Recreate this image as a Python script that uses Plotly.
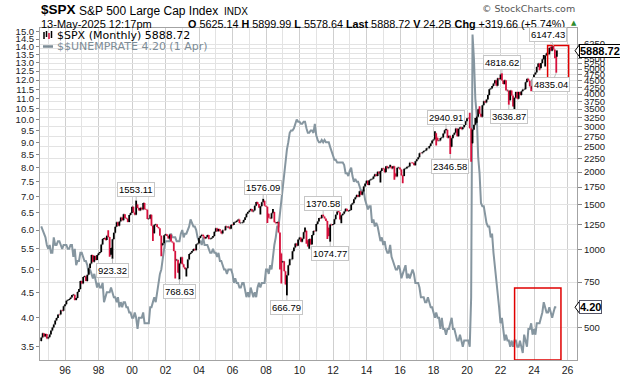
import plotly.graph_objects as go
import pandas as pd
import math

# ---------------- DATA ----------------
# S&P 500 monthly closes, Jul 1994 .. May 2025 (last = 13-May-2025 intramonth)
spx_close = [
    458.26, 475.49, 462.69, 472.35, 453.69, 459.27,
    470.42, 487.39, 500.71, 514.71, 533.40, 544.75, 562.06, 561.88, 584.41, 581.50, 605.37, 615.93,
    636.02, 640.43, 645.50, 654.17, 669.12, 670.63, 639.95, 651.99, 687.33, 705.27, 757.02, 740.74,
    786.16, 790.82, 757.12, 801.34, 848.28, 885.14, 954.29, 899.47, 947.28, 914.62, 955.40, 970.43,
    980.28, 1049.34, 1101.75, 1111.75, 1090.82, 1133.84, 1120.67, 957.28, 1017.01, 1098.67, 1163.63, 1229.23,
    1279.64, 1238.33, 1286.37, 1335.18, 1301.84, 1372.71, 1328.72, 1320.41, 1282.71, 1362.93, 1388.91, 1469.25,
    1394.46, 1366.42, 1498.58, 1452.43, 1420.60, 1454.60, 1430.83, 1517.68, 1436.51, 1429.40, 1314.95, 1320.28,
    1366.01, 1239.94, 1160.33, 1249.46, 1255.82, 1224.38, 1211.23, 1133.58, 1040.94, 1059.78, 1139.45, 1148.08,
    1130.20, 1106.73, 1147.39, 1076.92, 1067.14, 989.82, 911.62, 916.07, 815.28, 885.76, 936.31, 879.82,
    855.70, 841.15, 848.18, 916.92, 963.59, 974.50, 990.31, 1008.01, 995.97, 1050.71, 1058.20, 1111.92,
    1131.13, 1144.94, 1126.21, 1107.30, 1120.68, 1140.84, 1101.72, 1104.24, 1114.58, 1130.20, 1173.82, 1211.92,
    1181.27, 1203.60, 1180.59, 1156.85, 1191.50, 1191.33, 1234.18, 1220.33, 1228.81, 1207.01, 1249.48, 1248.29,
    1280.08, 1280.66, 1294.83, 1310.61, 1270.09, 1270.20, 1276.66, 1303.82, 1335.85, 1377.94, 1400.63, 1418.30,
    1438.24, 1406.82, 1420.86, 1482.37, 1530.62, 1503.35, 1455.27, 1473.99, 1526.75, 1549.38, 1481.14, 1468.36,
    1378.55, 1330.63, 1322.70, 1385.59, 1400.38, 1280.00, 1267.38, 1282.83, 1166.36, 968.75, 896.24, 903.25,
    825.88, 735.09, 797.87, 872.81, 919.14, 919.32, 987.48, 1020.62, 1057.08, 1036.19, 1095.63, 1115.10,
    1073.87, 1104.49, 1169.43, 1186.69, 1089.41, 1030.71, 1101.60, 1049.33, 1141.20, 1183.26, 1180.55, 1257.64,
    1286.12, 1327.22, 1325.83, 1363.61, 1345.20, 1320.64, 1292.28, 1218.89, 1131.42, 1253.30, 1246.96, 1257.60,
    1312.41, 1365.68, 1408.47, 1397.91, 1310.33, 1362.16, 1379.32, 1406.58, 1440.67, 1412.16, 1416.18, 1426.19,
    1498.11, 1514.68, 1569.19, 1597.57, 1630.74, 1606.28, 1685.73, 1632.97, 1681.55, 1756.54, 1805.81, 1848.36,
    1782.59, 1859.45, 1872.34, 1883.95, 1923.57, 1960.23, 1930.67, 2003.37, 1972.29, 2018.05, 2067.56, 2058.90,
    1994.99, 2104.50, 2067.89, 2085.51, 2107.39, 2063.11, 2103.84, 1972.18, 1920.03, 2079.36, 2080.41, 2043.94,
    1940.24, 1932.23, 2059.74, 2065.30, 2096.95, 2098.86, 2173.60, 2170.95, 2168.27, 2126.15, 2198.81, 2238.83,
    2278.87, 2363.64, 2362.72, 2384.20, 2411.80, 2423.41, 2470.30, 2471.65, 2519.36, 2575.26, 2647.58, 2673.61,
    2823.81, 2713.83, 2640.87, 2648.05, 2705.27, 2718.37, 2816.29, 2901.52, 2913.98, 2711.74, 2760.17, 2506.85,
    2704.10, 2784.49, 2834.40, 2945.83, 2752.06, 2941.76, 2980.38, 2926.46, 2976.74, 3037.56, 3140.98, 3230.78,
    3225.52, 2954.22, 2584.59, 2912.43, 3044.31, 3100.29, 3271.12, 3500.31, 3363.00, 3269.96, 3621.63, 3756.07,
    3714.24, 3811.15, 3972.89, 4181.17, 4204.11, 4297.50, 4395.26, 4522.68, 4307.54, 4605.38, 4567.00, 4766.18,
    4515.55, 4373.94, 4530.41, 4131.93, 4132.15, 3785.38, 4130.29, 3955.00, 3585.62, 3871.98, 4080.11, 3839.50,
    4076.60, 3970.15, 4109.31, 4169.48, 4179.83, 4450.38, 4588.96, 4507.66, 4288.05, 4193.80, 4567.80, 4769.83,
    4845.65, 5096.27, 5254.35, 5035.69, 5277.51, 5460.48, 5522.30, 5648.40, 5762.48, 5705.45, 6032.38, 5881.63,
    6040.53, 5954.50, 5611.85, 5569.06, 5888.72,
]
spx_first_open = 444.27          # Jun 1994 close = Jul 1994 open
spx_open_marks = {"2025-05": 5625.14}
# known monthly highs / lows (labels on chart + notable extremes)
spx_high_marks = {
    "1998-07": 1190.58, "2000-03": 1553.11, "2007-10": 1576.09, "2008-05": 1440.24,
    "2010-04": 1219.80, "2011-05": 1370.58, "2012-04": 1422.38, "2015-05": 2134.72,
    "2018-01": 2872.87, "2018-09": 2940.91, "2020-02": 3393.52, "2020-06": 3233.13,
    "2020-09": 3588.11, "2022-01": 4818.62, "2024-07": 5669.67, "2024-12": 6099.97,
    "2025-01": 6128.18, "2025-02": 6147.43, "2025-05": 5899.99,
}
spx_low_marks = {
    "1998-08": 939.98, "1998-10": 923.32, "2001-03": 1081.19, "2001-09": 944.75,
    "2002-07": 775.68, "2002-10": 768.63, "2003-03": 788.90, "2007-08": 1370.60,
    "2008-01": 1270.05, "2008-10": 839.80, "2008-11": 741.02, "2009-03": 666.79,
    "2010-05": 1055.90, "2010-07": 1010.91, "2011-08": 1101.54, "2011-10": 1074.77,
    "2012-06": 1266.74, "2014-10": 1820.66, "2015-08": 1867.01, "2016-02": 1810.10,
    "2018-02": 2532.69, "2018-12": 2346.58, "2020-03": 2191.86, "2022-06": 3636.87,
    "2022-10": 3491.58, "2023-10": 4103.78, "2024-04": 4953.56, "2024-08": 5119.26,
    "2025-03": 5504.65, "2025-04": 4835.04, "2025-05": 5578.64,
}
# US unemployment rate (SA), Jul 1994 .. Apr 2025
unemp = [
    6.1, 6.0, 5.9, 5.8, 5.6, 5.5,
    5.6, 5.4, 5.4, 5.8, 5.6, 5.6, 5.7, 5.7, 5.6, 5.5, 5.6, 5.6,
    5.6, 5.5, 5.5, 5.6, 5.6, 5.3, 5.5, 5.1, 5.2, 5.2, 5.4, 5.4,
    5.3, 5.2, 5.2, 5.1, 4.9, 5.0, 4.9, 4.8, 4.9, 4.7, 4.6, 4.7,
    4.6, 4.6, 4.7, 4.3, 4.4, 4.5, 4.5, 4.5, 4.6, 4.5, 4.4, 4.4,
    4.3, 4.4, 4.2, 4.3, 4.2, 4.3, 4.3, 4.2, 4.2, 4.1, 4.1, 4.0,
    4.0, 4.1, 4.0, 3.8, 4.0, 4.0, 4.0, 4.1, 3.9, 3.9, 3.9, 3.9,
    4.2, 4.2, 4.3, 4.4, 4.3, 4.5, 4.6, 4.9, 5.0, 5.3, 5.5, 5.7,
    5.7, 5.7, 5.7, 5.9, 5.8, 5.8, 5.8, 5.7, 5.7, 5.7, 5.9, 6.0,
    5.8, 5.9, 5.9, 6.0, 6.1, 6.3, 6.2, 6.1, 6.1, 6.0, 5.8, 5.7,
    5.7, 5.6, 5.8, 5.6, 5.6, 5.6, 5.5, 5.4, 5.4, 5.5, 5.4, 5.4,
    5.3, 5.4, 5.2, 5.2, 5.1, 5.0, 5.0, 4.9, 5.0, 5.0, 5.0, 4.9,
    4.7, 4.8, 4.7, 4.7, 4.6, 4.6, 4.7, 4.7, 4.5, 4.4, 4.5, 4.4,
    4.6, 4.5, 4.4, 4.5, 4.4, 4.6, 4.7, 4.6, 4.7, 4.7, 4.7, 5.0,
    5.0, 4.9, 5.1, 5.0, 5.4, 5.6, 5.8, 6.1, 6.1, 6.5, 6.8, 7.3,
    7.8, 8.3, 8.7, 9.0, 9.4, 9.5, 9.5, 9.6, 9.8, 10.0, 9.9, 9.9,
    9.8, 9.8, 9.9, 9.9, 9.6, 9.4, 9.4, 9.5, 9.5, 9.4, 9.8, 9.3,
    9.1, 9.0, 9.0, 9.1, 9.0, 9.1, 9.0, 9.0, 9.0, 8.8, 8.6, 8.5,
    8.3, 8.3, 8.2, 8.2, 8.2, 8.2, 8.2, 8.1, 7.8, 7.8, 7.7, 7.9,
    8.0, 7.7, 7.5, 7.6, 7.5, 7.5, 7.3, 7.2, 7.2, 7.2, 6.9, 6.7,
    6.6, 6.7, 6.7, 6.2, 6.3, 6.1, 6.2, 6.1, 5.9, 5.7, 5.8, 5.6,
    5.7, 5.5, 5.4, 5.4, 5.6, 5.3, 5.2, 5.1, 5.0, 5.0, 5.1, 5.0,
    4.8, 4.9, 5.0, 5.1, 4.8, 4.9, 4.8, 4.9, 5.0, 4.9, 4.7, 4.7,
    4.7, 4.6, 4.4, 4.4, 4.4, 4.3, 4.3, 4.4, 4.3, 4.2, 4.2, 4.1,
    4.0, 4.1, 4.0, 4.0, 3.8, 4.0, 3.8, 3.8, 3.7, 3.8, 3.8, 3.9,
    4.0, 3.8, 3.8, 3.7, 3.6, 3.6, 3.7, 3.6, 3.5, 3.6, 3.6, 3.6,
    3.6, 3.5, 4.4, 14.8, 13.2, 11.0, 10.2, 8.4, 7.8, 6.8, 6.7, 6.7,
    6.4, 6.2, 6.1, 6.1, 5.8, 5.9, 5.4, 5.1, 4.7, 4.5, 4.2, 3.9,
    4.0, 3.8, 3.6, 3.7, 3.6, 3.6, 3.5, 3.6, 3.5, 3.6, 3.6, 3.5,
    3.5, 3.6, 3.5, 3.4, 3.7, 3.6, 3.5, 3.8, 3.8, 3.9, 3.7, 3.8,
    3.7, 3.9, 3.9, 3.9, 4.0, 4.1, 4.3, 4.2, 4.1, 4.1, 4.2, 4.1,
    4.0, 4.1, 4.2, 4.2,
]
# labelled extremes: (month, value, above/below)
spx_labels = [
    ("1998-10", 923.32, "low"), ("2000-03", 1553.11, "high"), ("2002-10", 768.63, "low"),
    ("2007-10", 1576.09, "high"), ("2009-03", 666.79, "low"), ("2011-05", 1370.58, "high"),
    ("2011-10", 1074.77, "low"), ("2018-09", 2940.91, "high"), ("2018-12", 2346.58, "low"),
    ("2022-01", 4818.62, "high"), ("2022-06", 3636.87, "low"), ("2025-02", 6147.43, "high"),
    ("2025-04", 4835.04, "low"),
]
unemp_ticks = [3.5, 4.0, 4.5, 5.0, 5.5, 6.0, 6.5, 7.0, 7.5, 8.0, 8.5, 9.0, 9.5, 10.0,
               10.5, 11.0, 11.5, 12.0, 12.5, 13.0, 13.5, 14.0, 14.5, 15.0]
spx_ticks = [500, 750, 1000, 1250, 1500, 1750, 2000, 2250, 2500, 2750, 3000, 3250, 3500,
             3750, 4000, 4250, 4500, 4750, 5000, 5250, 5500, 5750, 6000, 6250]
spx_last = 5888.72
unemp_last = 4.20

# ---------------- BUILD ----------------
spx_dates = list(pd.date_range("1994-07-31", periods=len(spx_close), freq="ME"))
spx_dates[-1] = pd.Timestamp("2025-05-13")
un_dates = pd.date_range("1994-07-31", periods=len(unemp), freq="ME")


def midx(key):
    y, m = map(int, key.split("-"))
    return (y - 1994) * 12 + (m - 7)


opens = [spx_first_open] + spx_close[:-1]
for k, v in spx_open_marks.items():
    opens[midx(k)] = v
highs = [max(o, c) for o, c in zip(opens, spx_close)]
lows = [min(o, c) for o, c in zip(opens, spx_close)]
for k, v in spx_high_marks.items():
    highs[midx(k)] = max(highs[midx(k)], v)
for k, v in spx_low_marks.items():
    lows[midx(k)] = min(lows[midx(k)], v)

L, R, T, B = 40, 43, 28, 16
WID, HEI = 620, 376
PW, PH = WID - L - R, HEI - T - B


def pxx(x):
    return (x - L) / PW


def pxy(y):
    return (HEI - B - y) / PH


fig = go.Figure()
fig.add_trace(go.Scatter(x=un_dates, y=unemp, mode="lines", yaxis="y",
                         line=dict(color="#8696a0", width=2), hoverinfo="skip",
                         showlegend=False))
fig.add_trace(go.Ohlc(x=spx_dates, open=opens, high=highs, low=lows, close=spx_close,
                      yaxis="y2", tickwidth=0.5,
                      increasing=dict(line=dict(color="#000000", width=1.8)),
                      decreasing=dict(line=dict(color="#d6103c", width=1.8)),
                      hoverinfo="skip", showlegend=False))

axis_font = dict(family="Liberation Sans, Arial, sans-serif", size=9.5, color="#222")
fig.update_layout(
    width=WID, height=HEI, margin=dict(l=L, r=R, t=T, b=B, autoexpand=False),
    paper_bgcolor="white", plot_bgcolor="white", showlegend=False,
    xaxis=dict(type="date", range=["1994-07-04", "2026-07-26"], tickformat="%y",
               dtick="M24", tick0="1996-01-01", showgrid=True, gridcolor="#cfcfcf",
               gridwidth=1, minor=dict(dtick="M12", tick0="1995-01-01", showgrid=True,
                                       gridcolor="#e3e3e3"),
               showline=True, linecolor="#a3a3a3", mirror=True, ticks="",
               tickfont=dict(family="Liberation Sans, Arial, sans-serif", size=10.5, color="#222"),
               rangeslider=dict(visible=False), fixedrange=True, automargin=False),
    yaxis=dict(type="log", range=[0.51738, 1.18352], tickmode="array",
               tickvals=unemp_ticks, ticktext=[f"{t:.1f}" for t in unemp_ticks],
               showgrid=False, zeroline=False, ticks="outside", ticklen=3,
               tickcolor="#888", showline=True, linecolor="#a3a3a3",
               tickfont=axis_font, side="left", automargin=False, fixedrange=True),
    yaxis2=dict(type="log", range=[2.5741, 3.8579], overlaying="y", side="right",
                tickmode="array", tickvals=spx_ticks, ticktext=[str(t) for t in spx_ticks],
                showgrid=True, gridcolor="#e3e3e3", zeroline=False, ticks="outside",
                ticklen=4, tickcolor="#888", showline=True, linecolor="#a3a3a3",
                tickfont=axis_font, automargin=False, fixedrange=True),
)

anns = []
shapes = []
# header
hdr = "Liberation Sans, Arial, sans-serif"
anns.append(dict(text="<b>$SPX</b>", x=pxx(39), y=pxy(10), font=dict(family=hdr, size=13.5, color="#000")))
anns.append(dict(text="S&P 500 Large Cap Index", x=pxx(77), y=pxy(11), font=dict(family=hdr, size=12, color="#000")))
anns.append(dict(text="INDX", x=pxx(222), y=pxy(11.5), font=dict(family=hdr, size=10, color="#000")))
anns.append(dict(text="13-May-2025 12:17pm", x=pxx(39), y=pxy(23.5), font=dict(family=hdr, size=11, color="#000")))
anns.append(dict(text="<b>O</b> 5625.14 <b>H</b> 5899.99 <b>L</b> 5578.64 <b>Last</b> 5888.72 "
                      "<b>V</b> 24.2B <b>Chg</b> +319.66 (+5.74%)",
                 x=pxx(567), y=pxy(23.5), xanchor="right",
                 font=dict(family=hdr, size=10.8, color="#000")))
anns.append(dict(text="▲", x=pxx(569), y=pxy(22.5), font=dict(family="DejaVu Sans", size=7, color="#2e8b2e")))
anns.append(dict(text="© StockCharts.com", x=pxx(577), y=pxy(9), xanchor="right",
                 font=dict(family="DejaVu Sans, sans-serif", size=9.5, color="#555")))
for a in anns:
    a.setdefault("xanchor", "left")
    a.update(xref="paper", yref="paper", yanchor="middle", showarrow=False)

# legend
leg = "DejaVu Sans, Verdana, sans-serif"
anns.append(dict(text="$SPX (Monthly) 5888.72", x=pxx(55), y=pxy(35), xref="paper", yref="paper",
                 xanchor="left", yanchor="middle", showarrow=False,
                 font=dict(family=leg, size=11, color="#000")))
anns.append(dict(text="$$UNEMPRATE 4.20 (1 Apr)", x=pxx(55), y=pxy(46.5), xref="paper", yref="paper",
                 xanchor="left", yanchor="middle", showarrow=False,
                 font=dict(family=leg, size=11, color="#7d8c96")))
for xx, y0, y1, col in [(44, 32, 39, "#000"), (46.5, 31, 37, "#000"), (49, 33, 39, "#d6103c"), (51.5, 31, 38, "#000")]:
    shapes.append(dict(type="line", xref="paper", yref="paper", x0=pxx(xx), x1=pxx(xx),
                       y0=pxy(y0), y1=pxy(y1), line=dict(color=col, width=1.5)))
shapes.append(dict(type="line", xref="paper", yref="paper", x0=pxx(43), x1=pxx(53),
                   y0=pxy(46.5), y1=pxy(46.5), line=dict(color="#7d8c96", width=2.5)))

# extreme labels
for key, val, kind in spx_labels:
    d = spx_dates[midx(key)]
    axo = -5 if key.startswith("2025") else 0
    anns.append(dict(x=d, y=math.log10(val), xref="x", yref="y2", text=f"{val:.2f}",
                     showarrow=True, arrowhead=0, arrowwidth=1, arrowcolor="#bdbdbd",
                     ax=axo, ay=(-11 if kind == "high" else 12), standoff=0,
                     bgcolor="white", bordercolor="#c6c6c6", borderwidth=1, borderpad=1,
                     font=dict(family=hdr, size=9.5, color="#000")))

# right-side last value boxes
anns.append(dict(x=pxx(579), y=math.log10(spx_last), xref="paper", yref="y2",
                 text=f"<b>{spx_last:.2f}</b>", showarrow=False, xanchor="left", yanchor="middle",
                 bgcolor="white", bordercolor="#000", borderwidth=1, borderpad=0,
                 font=dict(family=hdr, size=11, color="#000")))
anns.append(dict(x=pxx(579), y=math.log10(unemp_last), xref="paper", yref="y",
                 text=f"<b>{unemp_last:.2f}</b>", showarrow=False, xanchor="left", yanchor="middle",
                 bgcolor="white", bordercolor="#556", borderwidth=1, borderpad=0,
                 font=dict(family=hdr, size=11, color="#000")))
for val, yref in [(spx_last, "y2"), (unemp_last, "y")]:
    shapes.append(dict(type="path", xref="paper", yref=yref, xsizemode="pixel", ysizemode="pixel",
                       xanchor=pxx(579), yanchor=val, path="M 0.5,-6 L -4,0 L 0.5,6 Z",
                       fillcolor="white", line=dict(color="#000", width=1)))

# red highlight rectangles
shapes.append(dict(type="rect", xref="x", yref="y2", x0="2024-10-23", x1="2026-01-25",
                   y0=4384, y1=6166, line=dict(color="#e00000", width=1.5)))
shapes.append(dict(type="rect", xref="x", yref="y", x0="2022-11-03", x1="2025-08-10",
                   y0=3.292, y1=4.59, line=dict(color="#e00000", width=1.5)))

fig.update_layout(annotations=anns, shapes=shapes)
fig.write_html("out.html", config={"displayModeBar": False, "staticPlot": True},
               post_script="document.body.style.margin='0';document.body.style.padding='0';")
